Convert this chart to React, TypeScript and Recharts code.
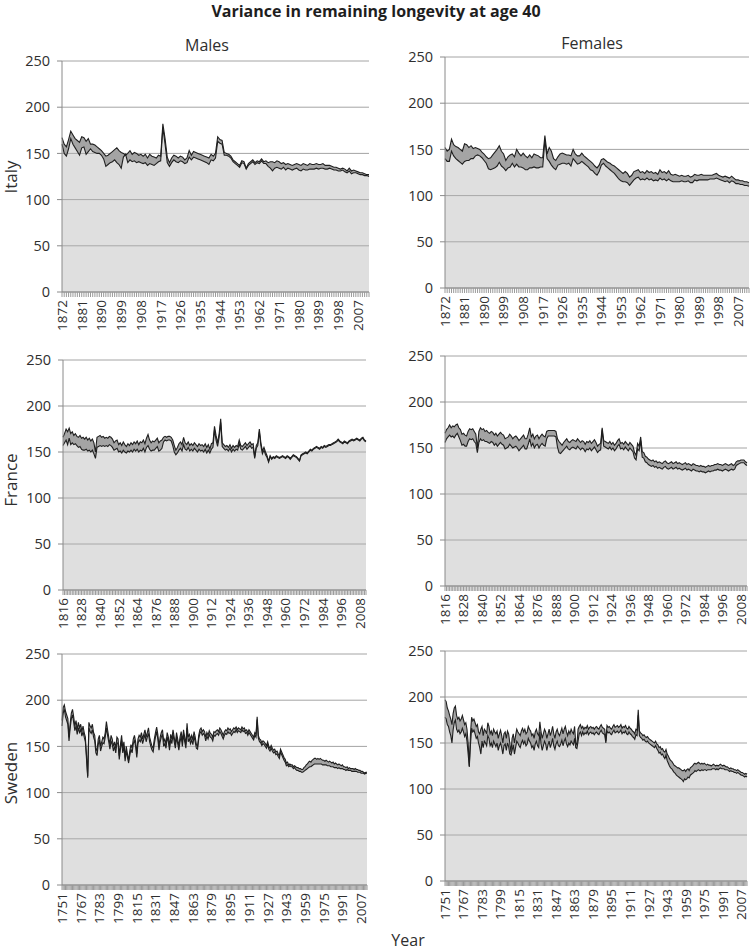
import React from "react";
import { AreaChart, Area, XAxis, YAxis, CartesianGrid } from "recharts";

// ---- data: variance in remaining longevity at age 40 (upper / lower bound), one value per year ----

const ITALY_START = 1872;
const FRANCE_START = 1816;
const SWEDEN_START = 1751;

const italyTicks = [1872, 1881, 1890, 1899, 1908, 1917, 1926, 1935, 1944, 1953, 1962, 1971, 1980, 1989, 1998, 2007];
const franceTicks = [1816, 1828, 1840, 1852, 1864, 1876, 1888, 1900, 1912, 1924, 1936, 1948, 1960, 1972, 1984, 1996, 2008];
const swedenTicks = [1751, 1767, 1783, 1799, 1815, 1831, 1847, 1863, 1879, 1895, 1911, 1927, 1943, 1959, 1975, 1991, 2007];
const yTicks = [0, 50, 100, 150, 200, 250];

const italyMaleHi = [
  167, 160, 157, 165, 174, 170, 166, 164,
  162, 168, 167, 163, 166, 160, 160, 159, 157, 155,
  153, 150, 147, 148, 150, 152, 154, 156, 153, 151,
  150, 148, 150, 153, 149, 151, 150, 148, 149, 147,
  149, 145, 149, 147, 146, 145, 148, 147, 182, 166,
  146, 140, 145, 148, 147, 145, 147, 146, 143, 145,
  153, 148, 152, 151, 150, 149, 148, 147, 146, 145,
  149, 147, 150, 168, 165, 164, 151, 150, 149, 147,
  143, 141, 139, 137, 142, 141, 134, 139, 141, 143,
  140, 142, 141, 144, 141, 142, 140, 141, 141, 140,
  142, 141, 139, 140, 138, 139, 138, 137, 138, 139,
  138, 137, 139, 138, 137, 139, 138, 138, 139, 138,
  138, 139, 137, 137, 137, 136, 135, 135, 134, 133,
  134, 133, 131, 134, 131, 132, 131, 130, 129, 129,
  128, 127, 127,
];
const italyMaleLo = [
  160, 150, 147, 155, 166, 160, 156, 152,
  148, 156, 157, 149, 152, 155, 152, 151, 150, 150,
  148, 144, 136, 138, 140, 141, 143, 140, 138, 134,
  146, 149, 140, 143, 141, 142, 140, 141, 140, 139,
  140, 137, 139, 138, 137, 139, 141, 142, 178, 160,
  140, 136, 140, 143, 141, 140, 142, 141, 139, 140,
  146, 143, 146, 145, 144, 143, 142, 141, 140, 138,
  143, 142, 145, 163, 161, 160, 148, 148, 147, 145,
  141, 139, 137, 135, 140, 139, 133, 137, 139, 141,
  138, 140, 139, 142, 139, 139, 136, 134, 131, 134,
  135, 134, 133, 135, 132, 134, 133, 132, 133, 134,
  132, 131, 133, 132, 132, 133, 133, 133, 134, 133,
  134, 134, 133, 133, 134, 133, 132, 132, 131, 131,
  132, 130, 129, 131, 128, 129, 129, 128, 127, 127,
  126, 126, 125,
];

const italyFemaleHi = [
  152, 148, 150, 161, 155, 153, 152, 150,
  148, 156, 155, 152, 154, 151, 152, 151, 150, 147,
  145, 142, 140, 141, 144, 147, 150, 154, 148, 145,
  138, 142, 144, 145, 142, 150, 146, 143, 146, 143,
  141, 144, 141, 145, 144, 143, 141, 141, 165, 145,
  152, 148, 140, 138, 142, 145, 146, 145, 144, 144,
  143, 150, 145, 143, 143, 146, 143, 141, 139, 137,
  135, 132, 130, 133, 139, 140, 138, 136, 135, 133,
  132, 130, 128, 126, 124, 126, 124, 120, 122, 126,
  127, 128, 125, 126, 124, 127, 125, 126, 124, 125,
  123, 128, 125, 126, 124, 127, 123, 122, 123, 122,
  121, 122, 121, 121, 122, 120, 121, 123, 122, 122,
  123, 122, 122, 122, 122, 122, 123, 124, 122, 121,
  120, 121, 120, 119, 121, 119, 117, 117, 116, 116,
  115, 115, 114,
];
const italyFemaleLo = [
  140, 137, 137, 148, 143, 140, 138, 136,
  134, 137, 138, 138, 140, 140, 143, 144, 143, 141,
  138, 135, 129, 128, 129, 130, 132, 136, 132, 130,
  127, 130, 131, 135, 131, 134, 131, 131, 130, 128,
  128, 130, 130, 131, 130, 130, 131, 131, 160, 140,
  137, 133, 130, 128, 133, 134, 135, 135, 134, 135,
  132, 140, 137, 134, 135, 137, 135, 133, 131, 128,
  127, 124, 122, 126, 133, 135, 132, 130, 128, 126,
  124, 121, 118, 116, 115, 115, 114, 111, 114, 117,
  119, 120, 117, 118, 117, 119, 117, 118, 116, 117,
  116, 119, 117, 118, 116, 118, 116, 115, 115, 115,
  115, 116, 115, 115, 116, 114, 114, 117, 116, 117,
  117, 117, 117, 117, 118, 118, 118, 119, 118, 117,
  116, 115, 116, 114, 116, 115, 113, 113, 112, 112,
  111, 111, 110,
];

const franceMaleHi = [
  166, 170, 175, 172,
  176, 170, 172, 168, 170, 167, 166, 168, 165, 166,
  164, 166, 163, 165, 162, 164, 160, 150, 166, 167,
  168, 166, 167, 165, 166, 165, 167, 166, 164, 160,
  162, 163, 158, 160, 157, 161, 158, 156, 159, 157,
  160, 158, 161, 159, 162, 158, 161, 160, 163, 159,
  165, 169, 163, 160, 162, 161, 163, 165, 160, 162,
  163, 166, 167, 166, 167, 167, 166, 163, 157, 152,
  155, 159, 161, 158, 166, 160, 158, 161, 157, 159,
  157, 160, 158, 156, 159, 157, 158, 156, 159, 155,
  158, 153, 159, 160, 178, 168, 160, 170, 186, 160,
  158, 156, 157, 155, 158, 154, 157, 155, 157, 156,
  163, 157, 156, 158, 160, 157, 159, 161, 158, 159,
  145, 157, 160, 175, 160, 151, 155, 150, 146, 140,
  146, 143, 145, 144, 146, 145, 144, 145, 146, 145,
  144, 146, 145, 143, 145, 147, 146, 145, 143, 141,
  147, 148, 149, 150, 149, 151, 153, 152, 154, 155,
  156, 155, 154, 156, 155, 157, 156, 157, 158, 158,
  159, 160, 161, 162, 164, 162, 161, 160, 162, 161,
  160, 162, 163, 164, 163, 164, 165, 164, 163, 165,
  166, 163, 162,
];
const franceMaleLo = [
  157, 160, 163, 158,
  165, 158, 160, 158, 159, 157, 155, 156, 153, 152,
  152, 153, 151, 152, 150, 152, 148, 143, 155, 156,
  157, 156, 157, 156, 157, 156, 158, 157, 155, 152,
  153, 154, 150, 151, 149, 152, 150, 149, 151, 150,
  152, 150, 153, 151, 153, 150, 152, 151, 154, 150,
  155, 157, 153, 151, 152, 152, 154, 156, 151, 152,
  154, 161, 163, 162, 163, 163, 162, 157, 150, 147,
  149, 152, 154, 151, 158, 153, 152, 155, 151, 153,
  151, 154, 152, 150, 153, 151, 152, 150, 153, 149,
  152, 149, 153, 155, 174, 163, 156, 166, 182, 156,
  154, 152, 153, 151, 154, 150, 153, 151, 153, 152,
  159, 153, 152, 154, 156, 153, 155, 157, 154, 155,
  143, 154, 157, 172, 157, 148, 152, 147, 144, 139,
  145, 142, 144, 143, 145, 144, 143, 144, 145, 144,
  143, 145, 144, 142, 144, 146, 145, 144, 142, 140,
  146, 147, 148, 149, 148, 150, 152, 151, 153, 154,
  155, 154, 153, 155, 154, 156, 155, 156, 157, 157,
  158, 159, 160, 161, 163, 161, 160, 159, 161, 160,
  159, 161, 162, 163, 162, 163, 164, 163, 162, 164,
  165, 162, 161,
];

const franceFemaleHi = [
  166, 170, 172, 175,
  172, 174, 173, 175, 176, 172, 170, 165, 166, 164,
  163, 168, 171, 170, 171, 168, 165, 150, 168, 172,
  170, 171, 168, 169, 167, 166, 168, 167, 164, 166,
  163, 165, 167, 165, 164, 160, 161, 162, 165, 163,
  160, 162, 163, 161, 158, 160, 162, 164, 160, 160,
  165, 172, 162, 165, 160, 163, 164, 160, 163, 165,
  163, 162, 168, 169, 169, 169, 169, 169, 168, 160,
  157, 155, 153, 156, 158, 160, 157, 156, 158, 159,
  158, 157, 160, 158, 156, 158, 157, 154, 157, 156,
  158, 155, 157, 159, 156, 152, 154, 155, 172, 158,
  157, 156, 155, 157, 154, 156, 153, 155, 158, 160,
  155, 156, 154, 157, 155, 153, 156, 154, 152, 145,
  142, 155, 152, 162, 146, 145, 141, 140, 138, 137,
  136, 137, 135, 136, 134, 135, 134, 133, 135, 136,
  134, 133, 134, 135, 133, 134, 135, 133, 134, 133,
  132, 133, 134, 132, 133, 132, 131, 133, 132, 131,
  131, 130, 131, 130, 130, 129, 130, 131, 130, 131,
  131, 132, 132, 133, 132, 132, 131, 132, 133, 132,
  131, 132, 133, 131, 132, 135, 136, 136, 137, 137,
  137, 135, 134,
];
const franceFemaleLo = [
  156, 160, 162, 164,
  162, 163, 161, 164, 166, 162, 158, 153, 154, 152,
  152, 157, 160, 159, 160, 157, 155, 145, 156, 160,
  158, 159, 157, 157, 156, 155, 157, 156, 153, 155,
  152, 154, 156, 154, 153, 149, 150, 151, 154, 152,
  150, 151, 152, 150, 147, 149, 151, 153, 149, 149,
  154, 160, 152, 155, 150, 153, 154, 150, 153, 155,
  153, 152, 160, 163, 163, 163, 163, 163, 162, 151,
  145, 144, 146, 148, 150, 152, 149, 148, 150, 151,
  150, 149, 152, 150, 148, 150, 149, 146, 149, 148,
  150, 147, 149, 151, 148, 145, 147, 148, 170, 152,
  151, 150, 149, 151, 148, 150, 147, 149, 152, 154,
  149, 150, 148, 151, 149, 147, 150, 148, 146, 139,
  137, 149, 147, 158, 140, 139, 135, 134, 132, 131,
  130, 131, 129, 130, 128, 129, 128, 127, 129, 130,
  128, 127, 128, 129, 127, 128, 129, 127, 128, 127,
  126, 127, 128, 126, 127, 126, 125, 127, 126, 125,
  125, 124, 125, 124, 124, 123, 124, 125, 124, 125,
  125, 126, 126, 127, 126, 126, 125, 126, 127, 126,
  125, 126, 127, 126, 127, 131, 132, 133, 134, 134,
  134, 132, 131,
];

const swedenMaleHi = [
  178, 192, 195, 188, 184, 180, 160, 175, 186,
  190, 182, 172, 178, 168, 176, 170, 174, 166, 172,
  165, 160, 140, 118, 176, 172, 170, 174, 165, 162,
  148, 145, 158, 162, 150, 155, 160, 158, 165, 177,
  168, 160, 152, 162, 158, 150, 155, 148, 160, 158,
  140, 152, 162, 148, 155, 138, 150, 142, 135, 145,
  152, 148, 158, 162, 155, 142, 158, 162, 160, 165,
  158, 163, 168, 160, 165, 170, 160, 155, 150, 148,
  158, 165, 171, 163, 150, 160, 165, 168, 155, 158,
  152, 165, 160, 150, 163, 158, 168, 160, 152, 165,
  158, 150, 160, 166, 155, 168, 160, 152, 175, 160,
  163, 158, 162, 157, 166, 160, 152, 150, 162, 168,
  170, 166, 168, 166, 160, 165, 162, 167, 164, 163,
  160, 166, 165, 167, 168, 166, 170, 168, 165, 162,
  166, 168, 167, 170, 168, 169, 166, 168, 170, 169,
  171, 168, 170, 169, 168, 171, 169, 170, 167, 168,
  165, 168, 166, 164, 162, 160, 165, 163, 182, 162,
  158, 157, 154, 156, 155, 153, 151, 155, 150, 148,
  151, 148, 146, 147, 144, 145, 142, 140, 147, 144,
  141, 138, 136, 132, 133, 130, 131, 130, 130, 128,
  129, 128, 127, 127, 126, 126, 125, 125, 127, 128,
  130, 131, 133, 134, 133, 135, 136, 137, 137, 136,
  137, 136, 137, 136, 135, 135, 134, 135, 134, 133,
  134, 133, 132, 133, 131, 132, 131, 130, 131, 130,
  129, 130, 128, 128, 127, 128, 126, 127, 126, 126,
  126, 125, 126, 125, 125, 124, 124, 123, 123, 122,
  121, 122, 122,
];
const swedenMaleLo = [
  172, 186, 190, 182, 178, 174, 156, 170, 180,
  184, 176, 167, 172, 163, 170, 165, 168, 161, 166,
  160, 155, 136, 116, 170, 166, 164, 168, 160, 156,
  143, 140, 152, 157, 145, 150, 154, 153, 160, 170,
  162, 155, 147, 156, 152, 145, 150, 143, 154, 153,
  136, 147, 156, 143, 150, 134, 145, 138, 132, 140,
  147, 143, 153, 156, 150, 138, 153, 157, 155, 159,
  153, 158, 163, 155, 160, 164, 155, 150, 146, 144,
  153, 160, 166, 158, 146, 155, 160, 163, 150, 153,
  148, 160, 155, 146, 158, 153, 163, 155, 148, 160,
  153, 146, 155, 161, 150, 163, 155, 148, 170, 155,
  158, 153, 157, 152, 161, 155, 148, 147, 158, 164,
  166, 162, 164, 162, 156, 161, 158, 163, 160, 159,
  156, 162, 161, 163, 164, 162, 166, 164, 161, 158,
  162, 164, 163, 166, 164, 165, 162, 164, 166, 165,
  168, 165, 167, 166, 165, 168, 166, 167, 164, 165,
  162, 165, 163, 161, 159, 157, 162, 160, 179, 159,
  155, 154, 151, 153, 152, 150, 148, 152, 147, 145,
  148, 145, 143, 144, 141, 142, 139, 137, 144, 141,
  138, 135, 133, 129, 130, 128, 129, 128, 128, 126,
  127, 125, 124, 124, 123, 123, 122, 122, 123, 124,
  125, 126, 127, 128, 128, 129, 130, 131, 131, 131,
  131, 131, 131, 131, 130, 130, 130, 130, 129, 129,
  129, 128, 128, 128, 127, 127, 127, 126, 127, 126,
  126, 126, 125, 125, 124, 125, 124, 124, 124, 123,
  123, 123, 123, 123, 122, 122, 122, 121, 121, 121,
  120, 121, 121,
];

const swedenFemaleHi = [
  197, 195, 188, 185, 180, 176, 170, 182, 188,
  190, 180, 176, 178, 174, 176, 180, 175, 170, 172,
  165, 150, 125, 160, 178, 174, 176, 172, 168, 170,
  162, 160, 165, 168, 158, 165, 163, 160, 172, 168,
  160, 163, 158, 165, 162, 160, 163, 155, 160, 164,
  158, 150, 160, 162, 155, 163, 160, 150, 140, 155,
  160, 150, 158, 165, 162, 160, 158, 163, 166, 162,
  165, 160, 162, 168, 165, 163, 158, 160, 155, 162,
  165, 160, 158, 173, 162, 155, 160, 165, 162, 155,
  160, 165, 158, 162, 168, 160, 155, 162, 165, 160,
  158, 162, 166, 160, 165, 168, 162, 158, 163, 160,
  165, 162, 160, 168, 150, 148, 165, 168, 170, 166,
  168, 165, 167, 166, 169, 165, 167, 168, 166, 167,
  165, 167, 168, 166, 165, 168, 170, 167, 166, 165,
  152, 169, 167, 168, 166, 165, 168, 170, 167, 168,
  169, 167, 168, 170, 166, 168, 167, 169, 166, 165,
  168, 166, 165, 163, 162, 160, 165, 164, 186, 163,
  161, 160, 158, 159, 157, 156, 157, 155, 154, 153,
  152, 151, 150, 152, 149, 148, 145, 146, 143, 144,
  141, 140, 143, 138, 136, 133, 131, 130, 128, 126,
  125, 124, 123, 123, 122, 121, 120, 120, 121, 119,
  121, 122, 120, 123, 124, 125, 127, 128, 127, 128,
  129, 128, 127, 128, 127, 128, 127, 126, 127, 126,
  126, 125, 126, 127, 126, 125, 126, 125, 126, 127,
  126, 125, 126, 125, 124, 124, 123, 122, 123, 122,
  122, 121, 121, 120, 121, 120, 119, 118, 118, 117,
  116, 117, 116,
];
const swedenFemaleLo = [
  178, 176, 170, 168, 162, 158, 150, 164, 172,
  175, 165, 162, 164, 160, 162, 166, 162, 157, 160,
  152, 138, 124, 148, 166, 162, 164, 160, 155, 157,
  150, 145, 138, 152, 145, 152, 150, 147, 158, 155,
  147, 150, 145, 152, 149, 146, 150, 142, 147, 150,
  145, 138, 147, 149, 142, 150, 146, 138, 137, 142,
  148, 138, 145, 152, 150, 147, 145, 150, 153, 149,
  152, 147, 149, 155, 152, 150, 145, 147, 142, 149,
  152, 147, 145, 162, 149, 142, 147, 152, 149, 142,
  148, 152, 145, 149, 155, 147, 143, 149, 152, 147,
  146, 149, 153, 147, 152, 155, 149, 146, 150, 148,
  152, 150, 148, 155, 145, 144, 152, 160, 162, 158,
  162, 159, 161, 160, 163, 159, 161, 162, 160, 161,
  159, 161, 162, 160, 159, 162, 164, 161, 160, 159,
  150, 163, 161, 162, 160, 159, 162, 164, 161, 162,
  163, 161, 162, 164, 160, 162, 161, 163, 160, 159,
  162, 160, 159, 157, 156, 154, 159, 158, 180, 158,
  156, 155, 153, 154, 152, 151, 152, 150, 149, 148,
  147, 146, 145, 147, 144, 142, 139, 140, 137, 138,
  135, 133, 137, 131, 128, 125, 123, 122, 120, 118,
  117, 115, 114, 113, 112, 111, 110, 108, 111, 110,
  111, 113, 112, 115, 116, 117, 118, 120, 119, 120,
  121, 120, 120, 121, 120, 121, 121, 120, 121, 121,
  121, 121, 122, 122, 122, 121, 122, 121, 122, 123,
  122, 122, 122, 121, 121, 121, 120, 119, 120, 119,
  119, 118, 118, 117, 118, 117, 116, 115, 115, 114,
  113, 114, 113,
];

// ---- helpers ----

function buildRows(start: number, hi: number[], lo: number[]) {
  return hi.map((h, i) => ({ year: start + i, hi: h, lo: lo[i], band: [lo[i], h] }));
}

const FONT = "'Open Sans', 'Noto Sans', sans-serif";
const TEXT = "#2e2e2e";
const AXIS = "#8a8a8a";

const YearTick = (props: any) => {
  const { x, y, payload, labels } = props;
  if (!labels.includes(payload.value)) return <g />;
  return (
    <text
      x={x}
      y={y}
      transform={`rotate(-90 ${x} ${y})`}
      textAnchor="end"
      dy="0.36em"
      fontSize={13.5}
      fontFamily={FONT}
      fill={TEXT}
    >
      {payload.value}
    </text>
  );
};

const Y_W = 50;
const TOP_M = 10;
const X_H = 45;
const RIGHT_M = 10;

function Panel({ rows, labels, left, top, plotW, plotH }: any) {
  return (
    <div style={{ position: "absolute", left: left - Y_W, top: top - TOP_M }}>
      <AreaChart
        width={Y_W + plotW + RIGHT_M}
        height={TOP_M + plotH + X_H}
        data={rows}
        margin={{ top: TOP_M, right: RIGHT_M, left: 0, bottom: 0 }}
      >
        <CartesianGrid vertical={false} stroke="#a4a4a4" strokeWidth={1} />
        <XAxis
          dataKey="year"
          interval={0}
          height={X_H}
          tickSize={5}
          tickMargin={3}
          axisLine={{ stroke: AXIS }}
          tickLine={{ stroke: "#9a9a9a" }}
          tick={<YearTick labels={labels} />}
        />
        <YAxis
          domain={[0, 250]}
          ticks={yTicks}
          width={Y_W}
          tickSize={5}
          tickMargin={7}
          axisLine={{ stroke: AXIS }}
          tickLine={{ stroke: AXIS }}
          tick={{ fontSize: 14.5, fontFamily: FONT, fill: TEXT }}
        />
        <Area
          type="linear"
          dataKey="lo"
          stroke="none"
          fill="#b0b0b0"
          fillOpacity={0.4}
          dot={false}
          activeDot={false}
          isAnimationActive={false}
        />
        <Area
          type="linear"
          dataKey="band"
          stroke="#1f1f1f"
          strokeWidth={1.1}
          fill="#a4a4a4"
          fillOpacity={1}
          dot={false}
          activeDot={false}
          isAnimationActive={false}
        />
      </AreaChart>
    </div>
  );
}

const sideLabel = (text: string, cx: number, cy: number) => (
  <div
    style={{
      position: "absolute",
      left: cx - 40,
      top: cy - 10,
      width: 80,
      height: 20,
      lineHeight: "20px",
      textAlign: "center",
      transform: "rotate(-90deg)",
      fontSize: 17,
      fontFamily: FONT,
      color: TEXT,
      whiteSpace: "nowrap",
    }}
  >
    {text}
  </div>
);

const centerLabel = (text: string, cx: number, cy: number, size: number, bold = false) => (
  <div
    style={{
      position: "absolute",
      left: cx - 250,
      top: cy - 12,
      width: 500,
      height: 24,
      lineHeight: "24px",
      textAlign: "center",
      fontSize: size,
      fontWeight: bold ? 700 : 400,
      fontFamily: FONT,
      color: bold ? "#1e1e1e" : TEXT,
    }}
  >
    {text}
  </div>
);

export default function App() {
  const italyM = buildRows(ITALY_START, italyMaleHi, italyMaleLo);
  const italyF = buildRows(ITALY_START, italyFemaleHi, italyFemaleLo);
  const franceM = buildRows(FRANCE_START, franceMaleHi, franceMaleLo);
  const franceF = buildRows(FRANCE_START, franceFemaleHi, franceFemaleLo);
  const swedenM = buildRows(SWEDEN_START, swedenMaleHi, swedenMaleLo);
  const swedenF = buildRows(SWEDEN_START, swedenFemaleHi, swedenFemaleLo);

  return (
    <div
      style={{
        position: "absolute",
        left: 0,
        top: 0,
        width: 751,
        height: 950,
        background: "#fff",
        overflow: "hidden",
      }}
    >
      {centerLabel("Variance in remaining longevity at age 40", 376, 11, 16, true)}
      {centerLabel("Males", 207, 45, 16)}
      {centerLabel("Females", 592, 43, 16)}

      {sideLabel("Italy", 11, 177)}
      {sideLabel("France", 11, 480)}
      {sideLabel("Sweden", 11, 773)}

      <Panel rows={italyM} labels={italyTicks} left={62} top={61} plotW={307} plotH={231} />
      <Panel rows={italyF} labels={italyTicks} left={445} top={57} plotW={304} plotH={231} />
      <Panel rows={franceM} labels={franceTicks} left={63} top={360} plotW={303} plotH={230} />
      <Panel rows={franceF} labels={franceTicks} left={445} top={356} plotW={302} plotH={230} />
      <Panel rows={swedenM} labels={swedenTicks} left={62} top={654} plotW={305} plotH={231} />
      <Panel rows={swedenF} labels={swedenTicks} left={445} top={651} plotW={302} plotH={230} />

      {centerLabel("Year", 408, 940, 16)}
    </div>
  );
}
